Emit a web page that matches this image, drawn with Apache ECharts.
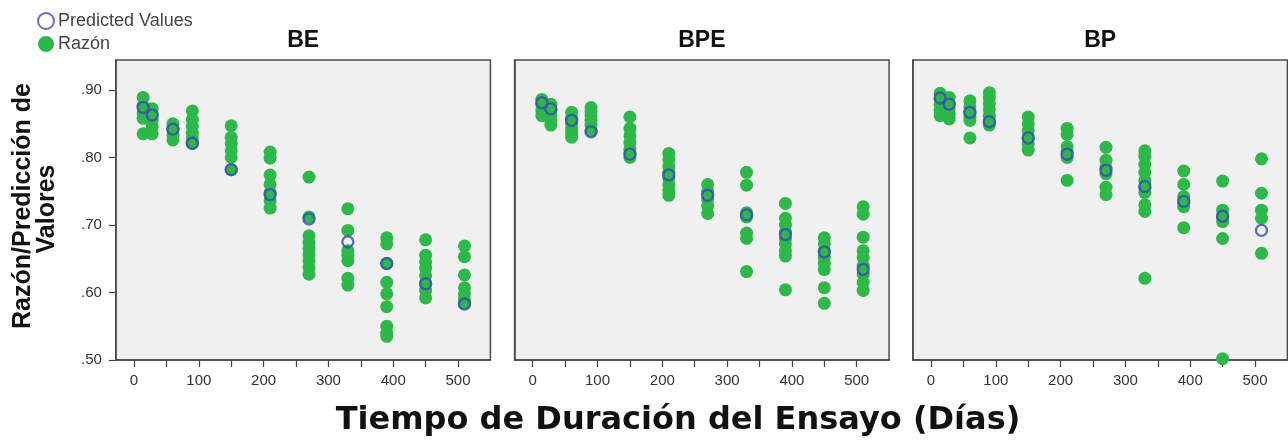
<!DOCTYPE html>
<html>
<head>
<meta charset="utf-8">
<script src="https://cdn.jsdelivr.net/npm/echarts@6/dist/echarts.min.js"></script>
<style>
html,body{margin:0;padding:0;background:#fff;}
#chart{width:1288px;height:440px;}
</style>
</head>
<body>
<div id="chart"></div>
<script>
// ---- data ----
const days = [14, 28, 60, 90, 150, 210, 270, 330, 390, 450, 510];
const panelNames = ['BE', 'BPE', 'BP'];
const xTickValues = [0, 50, 100, 150, 200, 250, 300, 350, 400, 450, 500];
const xLabelValues = [0, 100, 200, 300, 400, 500];
const yTickValues = [0.5, 0.6, 0.7, 0.8, 0.9];

const razonBE = [
  [0.889, 0.877, 0.866, 0.858, 0.835],
  [0.872, 0.864, 0.855, 0.846, 0.835],
  [0.850, 0.842, 0.834, 0.826],
  [0.869, 0.856, 0.846, 0.836, 0.828, 0.821],
  [0.847, 0.830, 0.820, 0.810, 0.800, 0.782],
  [0.808, 0.799, 0.774, 0.760, 0.748, 0.736, 0.725],
  [0.771, 0.712, 0.684, 0.674, 0.665, 0.656, 0.647, 0.637, 0.627],
  [0.724, 0.692, 0.662, 0.655, 0.647, 0.621, 0.611],
  [0.681, 0.672, 0.643, 0.615, 0.598, 0.579, 0.550, 0.540, 0.535],
  [0.678, 0.655, 0.645, 0.636, 0.625, 0.613, 0.603, 0.592],
  [0.669, 0.653, 0.626, 0.607, 0.598, 0.590, 0.584]
];
const predBE = [0.874, 0.863, 0.842, 0.821, 0.782, 0.745, 0.709, 0.675, 0.643, 0.613, 0.583];

const razonBPE = [
  [0.886, 0.878, 0.870, 0.862],
  [0.879, 0.870, 0.862, 0.855, 0.848],
  [0.867, 0.858, 0.850, 0.842, 0.836, 0.830],
  [0.874, 0.868, 0.862, 0.855, 0.848, 0.840],
  [0.860, 0.843, 0.832, 0.822, 0.812, 0.805, 0.800],
  [0.806, 0.797, 0.787, 0.778, 0.770, 0.760, 0.752, 0.744],
  [0.760, 0.750, 0.738, 0.728, 0.717],
  [0.778, 0.759, 0.718, 0.712, 0.688, 0.680, 0.631],
  [0.732, 0.710, 0.700, 0.690, 0.680, 0.672, 0.662, 0.654, 0.604],
  [0.681, 0.672, 0.662, 0.652, 0.643, 0.634, 0.607, 0.584],
  [0.727, 0.716, 0.682, 0.662, 0.652, 0.640, 0.627, 0.615, 0.603]
];
const predBPE = [0.881, 0.872, 0.855, 0.838, 0.805, 0.774, 0.744, 0.715, 0.686, 0.660, 0.634];

const razonBP = [
  [0.895, 0.887, 0.878, 0.870, 0.862],
  [0.889, 0.880, 0.872, 0.864, 0.857],
  [0.884, 0.875, 0.866, 0.860, 0.855, 0.829],
  [0.896, 0.888, 0.880, 0.871, 0.862, 0.853, 0.848],
  [0.860, 0.850, 0.840, 0.830, 0.820, 0.811],
  [0.843, 0.834, 0.816, 0.808, 0.800, 0.766],
  [0.815, 0.796, 0.785, 0.776, 0.756, 0.745],
  [0.810, 0.802, 0.790, 0.778, 0.766, 0.755, 0.748, 0.730, 0.720, 0.621],
  [0.780, 0.760, 0.742, 0.733, 0.727, 0.696],
  [0.765, 0.722, 0.712, 0.705, 0.680, 0.502],
  [0.798, 0.747, 0.722, 0.710, 0.658]
];
const predBP = [0.888, 0.879, 0.867, 0.853, 0.829, 0.805, 0.781, 0.757, 0.735, 0.713, 0.692];

const razonAll = [razonBE, razonBPE, razonBP];
const predAll = [predBE, predBPE, predBP];

// ---- layout / style ----
const GREEN = '#2fb84a';
const BLUE = '#3b48b5';
const gridLefts = [115.9, 514.6, 912.9];
const gridW = 374.5, gridTop = 60, gridH = 300;
const XMIN = -28, XMAX = 550, YMIN = 0.5, YMAX = 0.9444;
const tickFont = 'Liberation Sans, Arial, sans-serif';

const grids = [], xAxes = [], yAxes = [], series = [], graphics = [];
panelNames.forEach((name, i) => {
  grids.push({
    left: gridLefts[i], top: gridTop, width: gridW, height: gridH,
    show: true, backgroundColor: '#f0f0f0', borderColor: '#4a4a4a', borderWidth: 1.5
  });
  xAxes.push({
    gridIndex: i, type: 'value', min: XMIN, max: XMAX, position: 'bottom',
    axisLine: {show: true, onZero: false, lineStyle: {color: '#4a4a4a', width: 1.5}},
    splitLine: {show: false},
    axisTick: {show: true, inside: false, length: 7, lineStyle: {color: '#444', width: 1.2}, customValues: xTickValues},
    axisLabel: {show: true, customValues: xLabelValues, margin: 13, color: '#333', fontSize: 15, fontFamily: tickFont}
  });
  yAxes.push({
    gridIndex: i, type: 'value', min: YMIN, max: YMAX, position: 'left',
    axisLine: {show: true, onZero: false, lineStyle: {color: '#4a4a4a', width: 1.5}},
    splitLine: {show: false},
    axisTick: {show: i === 0, inside: false, length: 7, lineStyle: {color: '#444', width: 1.2}, customValues: yTickValues},
    axisLabel: {show: i === 0, customValues: yTickValues, margin: 14, color: '#333', fontSize: 15, fontFamily: tickFont,
      formatter: v => v.toFixed(2).replace(/^0/, '')}
  });
  const gData = [];
  razonAll[i].forEach((vals, k) => vals.forEach(v => gData.push([days[k], v])));
  series.push({
    name: 'Razón', type: 'scatter', xAxisIndex: i, yAxisIndex: i,
    symbol: 'circle', symbolSize: 13, data: gData,
    itemStyle: {color: GREEN, opacity: 1}, emphasis: {disabled: true}, z: 2
  });
  series.push({
    name: 'Predicted Values', type: 'scatter', xAxisIndex: i, yAxisIndex: i,
    symbol: 'circle', symbolSize: 11, data: predAll[i].map((v, k) => [days[k], v]),
    itemStyle: {color: 'rgba(0,0,0,0)', borderColor: BLUE, borderWidth: 2.4}, emphasis: {disabled: true}, z: 3
  });
  graphics.push({
    type: 'text', x: gridLefts[i] + gridW / 2, y: 41,
    style: {text: name, fill: '#111', font: 'bold 23px Liberation Sans, Arial, sans-serif', align: 'center', verticalAlign: 'middle'}
  });
});

graphics.push({
  type: 'text', x: 23, y: 206, rotation: Math.PI / 2,
  style: {text: 'Razón/Predicción de', fill: '#111', font: 'bold 25px Liberation Sans, Arial, sans-serif', align: 'center', verticalAlign: 'middle'}
});
graphics.push({
  type: 'text', x: 47, y: 209, rotation: Math.PI / 2,
  style: {text: 'Valores', fill: '#111', font: 'bold 25px Liberation Sans, Arial, sans-serif', align: 'center', verticalAlign: 'middle'}
});
graphics.push({
  type: 'text', x: 678, y: 421,
  style: {text: 'Tiempo de Duración del Ensayo (Días)', fill: '#111', font: 'bold 32px DejaVu Sans, Verdana, sans-serif', align: 'center', verticalAlign: 'middle'}
});

const chart = echarts.init(document.getElementById('chart'), null, {renderer: 'canvas'});
chart.setOption({
  backgroundColor: '#fff',
  animation: false,
  legend: {
    orient: 'vertical', left: 32, top: 7, itemWidth: 16, itemHeight: 16, itemGap: 5,
    textStyle: {fontSize: 18, color: '#444', fontFamily: tickFont, lineHeight: 18, padding: [0, 0, 0, -1]},
    data: [
      {name: 'Predicted Values', icon: 'circle', itemStyle: {color: '#fff', borderColor: BLUE, borderWidth: 2}},
      {name: 'Razón', icon: 'circle', itemStyle: {color: GREEN}}
    ],
    selectedMode: false
  },
  grid: grids, xAxis: xAxes, yAxis: yAxes, series: series,
  graphic: graphics
});
</script>
</body>
</html>
